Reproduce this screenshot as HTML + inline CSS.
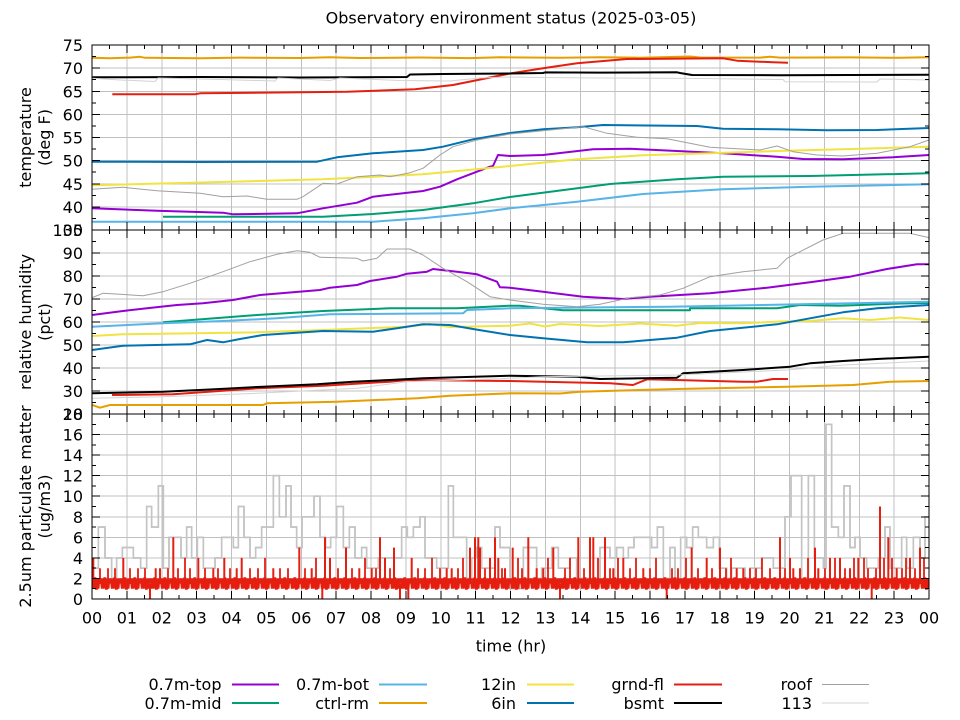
<!DOCTYPE html>
<html><head><meta charset="utf-8"><style>
html,body{margin:0;padding:0;background:#fff;}
svg{display:block;}
text{font-family:"DejaVu Sans","Liberation Sans",sans-serif;font-size:16px;fill:#000;}
</style></head><body>
<svg width="960" height="720" viewBox="0 0 960 720" xmlns="http://www.w3.org/2000/svg">
<defs>
<clipPath id="c1"><rect x="92" y="45" width="837" height="185"/></clipPath>
<clipPath id="c2"><rect x="92" y="230" width="837" height="184"/></clipPath>
<clipPath id="c3"><rect x="92" y="414" width="837" height="185"/></clipPath>
<pattern id="rz" patternUnits="userSpaceOnUse" x="92" y="570" width="10" height="30">
<polyline points="0,18.7 0.8,8.4 1.6,18.7 2.4,8.4 3.2,8.4 4,18.7 4.8,18.7 5.6,8.4 6.4,18.7 7.2,8.4 8,13.5 8.8,8.4 10,18.7" fill="none" stroke="#e51e10" stroke-width="2.2"/>
</pattern>
<g id="xt" stroke="#000" stroke-width="1">
<path d="M109.44,0v4M126.88,0v8M144.31,0v4M161.75,0v8M179.19,0v4M196.63,0v8M214.06,0v4M231.5,0v8M248.94,0v4M266.38,0v8M283.81,0v4M301.25,0v8M318.69,0v4M336.13,0v8M353.56,0v4M371,0v8M388.44,0v4M405.88,0v8M423.31,0v4M440.75,0v8M458.19,0v4M475.63,0v8M493.06,0v4M510.5,0v8M527.94,0v4M545.38,0v8M562.81,0v4M580.25,0v8M597.69,0v4M615.13,0v8M632.56,0v4M650,0v8M667.44,0v4M684.88,0v8M702.31,0v4M719.75,0v8M737.19,0v4M754.63,0v8M772.06,0v4M789.5,0v8M806.94,0v4M824.38,0v8M841.81,0v4M859.25,0v8M876.69,0v4M894.13,0v8M911.56,0v4"/>
</g>
</defs>
<rect width="960" height="720" fill="#fff"/>

<!-- grid -->
<g stroke="#c0c0c0" stroke-width="1" shape-rendering="crispEdges" fill="none">
<path d="M126.88,45V599M161.75,45V599M196.63,45V599M231.5,45V599M266.38,45V599M301.25,45V599M336.13,45V599M371,45V599M405.88,45V599M440.75,45V599M475.63,45V599M510.5,45V599M545.38,45V599M580.25,45V599M615.13,45V599M650,45V599M684.88,45V599M719.75,45V599M754.63,45V599M789.5,45V599M824.38,45V599M859.25,45V599M894.13,45V599"/>
<path d="M92,68.13H929M92,91.25H929M92,114.38H929M92,137.5H929M92,160.63H929M92,183.75H929M92,206.88H929"/>
<path d="M92,253H929M92,276H929M92,299H929M92,322H929M92,345H929M92,368H929M92,391H929"/>
<path d="M92,434.56H929M92,455.11H929M92,475.67H929M92,496.22H929M92,516.78H929M92,537.33H929M92,557.89H929M92,578.44H929"/>
</g>

<!-- temperature panel -->
<g clip-path="url(#c1)" fill="none" stroke-linejoin="round">
<polyline stroke="#9400d3" stroke-width="2" points="92,208.3 157,210.7 223,212.7 233,214.3 297,213.3 323,208.3 357,202.7 373,196.7 423,191 440,186.7 457,179.3 490,166.7 493,166 498,155 510,156 543,155 593,149.3 630,148.7 677,151 723,153.3 777,156.7 803,159 843,159.3 893,157.3 929,155"/>
<polyline stroke="#009e73" stroke-width="2" points="163,216.7 323,216.7 373,214 423,210 473,203.3 510,197 610,184 677,179.3 723,176.7 810,176 929,173.3"/>
<polyline stroke="#56b4e9" stroke-width="2" points="92,221.7 373,221.7 423,218.3 473,213.3 510,208.3 577,201.7 643,194 723,189.3 810,186.7 929,184.3"/>
<polyline stroke="#e69f00" stroke-width="2" points="92,57.8 110,58.3 130,57.6 140,56.8 145,57.8 200,58.2 240,57.6 300,58 330,57.3 360,58 420,57.5 470,58.1 500,57.3 560,57.8 600,57.2 640,57.7 690,56.5 700,57.5 760,57.6 770,56.8 780,57.6 850,57.4 900,57.8 929,57.3"/>
<polyline stroke="#f0e442" stroke-width="2" points="92,185.3 323,179.3 423,174.3 510,166 577,159.3 643,155.3 710,153.3 777,151 843,149.3 929,146.7"/>
<polyline stroke="#0072b2" stroke-width="2" points="92,161.7 200,162 317,161.7 337,157.3 373,153.3 423,150 443,146.7 473,139.3 510,133 543,129.3 577,127.3 603,125 697,126 723,128.7 777,129.3 827,130.3 877,130 929,128"/>
<polyline stroke="#e51e10" stroke-width="2" points="112.3,94.3 195,94.3 200,93.3 347,91.7 415,89.3 453,85 510,73.5 543,68.3 577,63.3 627,59 723,58.3 737,60.7 773,62.3 788,62.7"/>
<polyline stroke="#000" stroke-width="2" points="92,77.3 200,77 300,77.5 407,77 410,74.5 443,74 510,73.5 543,73 545,72.4 600,72.6 677,72.3 680,73 692,75 780,75.2 850,75 929,74.7"/>
<polyline stroke="#a0a0a0" stroke-width="1" points="92,189.3 123,187.3 157,190.7 200,193.3 223,196.7 247,196 267,199.3 297,199.3 303,196.7 323,183.3 337,184 357,176.7 380,175 390,176.7 410,172.7 423,168.3 440,155 453,146.7 477,140 510,134 583,126.7 607,133.3 637,137.3 667,138.7 710,147.3 760,150 777,146 793,151.7 817,155 843,156 877,153.3 910,146.7 929,140"/>
<polyline stroke="#d3d3d3" stroke-width="1" points="92,78.3 120,80 155,81.5 158,78 220,79.5 275,81 278,78 330,80.5 340,78 400,80.5 450,81 480,78 510,77 540,77.5 600,78 700,78.5 783,79.5 785,81.7 877,82 880,79 929,80"/>
</g>

<!-- humidity panel -->
<g clip-path="url(#c2)" fill="none" stroke-linejoin="round">
<polyline stroke="#9400d3" stroke-width="2" points="92,315 123,311 147,308.3 177,305 203,303.3 233,300 260,295 320,290 330,287.7 357,285 370,281 397,276.7 407,273.7 427,271.7 433,269 457,271.7 477,274.3 497,281.7 500,287.3 510,287.7 543,291.7 583,296.7 623,299 650,296.7 710,293.3 767,287.7 810,282.3 850,276.7 887,269 917,264.3 929,264.3"/>
<polyline stroke="#009e73" stroke-width="2" points="163,322.3 257,315 323,311 390,308.3 457,308.3 510,305.7 520,305.7 563,310.3 690,310.3 690,308.3 777,308.3 800,305 840,305.7 900,303.5 929,303"/>
<polyline stroke="#56b4e9" stroke-width="2" points="92,326.7 163,323.3 223,321 277,318.3 330,314.3 463,313.3 467,310 510,308.3 670,306.7 800,304.3 929,301.7"/>
<polyline stroke="#e69f00" stroke-width="2" points="92,405 100,407.7 110,405 263,405 267,403.3 337,401.7 417,398.3 450,395.7 510,393.3 560,393.5 580,391.7 677,389 787,386.7 853,385 890,381.7 929,381"/>
<polyline stroke="#f0e442" stroke-width="2" points="92,336 123,334.3 257,332.3 323,330 407,326.7 430,324 450,327 510,325.7 530,323.5 545,326.5 560,324 600,326 640,323.5 677,325.7 700,323 743,323.3 780,321.5 810,321 843,318.3 870,320 900,317.5 929,320"/>
<polyline stroke="#0072b2" stroke-width="2" points="92,350 123,345.7 190,344.3 207,340 223,342.3 240,339 263,335 323,331 373,331.7 397,328.3 423,324.3 450,325 473,329 510,335 543,338.3 587,342.3 623,342.3 677,337.7 710,331 777,324.3 810,318.3 843,312.3 877,308.3 929,305"/>
<polyline stroke="#e51e10" stroke-width="2" points="112,395 173,394.3 257,388.3 323,385.7 390,381.7 407,380 510,381 610,383.3 633,385 647,379.3 743,381.7 757,381.7 773,379 788,379"/>
<polyline stroke="#000" stroke-width="2" points="92,393.3 163,391.7 220,389 263,386.7 317,384.3 353,381.7 390,380 423,378.3 510,375.7 577,376.7 600,379 677,377.7 683,373.3 743,370 790,366.7 810,363.3 843,361 877,359 929,356.7"/>
<polyline stroke="#a0a0a0" stroke-width="1" points="92,297.7 103,293.3 143,295.7 163,291.7 190,283.3 223,271.7 250,261.7 277,254.3 297,250.7 310,252.3 320,257.3 357,258.3 363,261 377,258.3 387,249 410,249 423,255 443,268.3 467,281.7 490,296.7 510,300 543,304.3 577,306.7 600,304.3 630,297.7 660,295 683,288.3 710,276.7 743,271.7 777,268.3 787,258.3 800,251.7 823,240 843,233.3 910,233.3 929,237.7"/>
<polyline stroke="#d3d3d3" stroke-width="1" points="92,398.3 163,396.7 257,393.3 357,388.3 407,381.7 510,378.3 543,376.7 677,375 787,370 843,365 929,361"/>
</g>

<!-- particulate panel -->
<g clip-path="url(#c3)" fill="none">
<path id="roofpm" stroke="#c4c4c4" stroke-width="1.6" d="M92,568.2 H98.3 V527.1 H105 V557.9 H111.7 V578.4 H116.7 V557.9 H122.3 V547.6 H133.3 V557.9 H140.7 V568.2 H146.7 V506.5 H151.7 V527.1 H158.3 V485.9 H163.3 V568.2 H169 V537.3 H181 V557.9 H186.7 V527.1 H191.7 V557.9 H197.3 V537.3 H203.3 V568.2 H215 V557.9 H221.7 V537.3 H233.3 V547.6 H238.3 V506.5 H244 V537.3 H250 V557.9 H255.7 V547.6 H261.7 V527.1 H273.3 V475.7 H279.3 V516.8 H286 V485.9 H291 V527.1 H296.7 V547.6 H302 V516.8 H314 V496.2 H320 V537.3 H325.7 V547.6 H330.7 V537.3 H336.7 V506.5 H343.3 V547.6 H349.3 V527.1 H355 V557.9 H361.7 V547.6 H366.7 V568.2 H378.3 V557.9 H401.7 V527.1 H407.3 V537.3 H413.3 V527.1 H420 V516.8 H425 V557.9 H436.7 V568.2 H448.3 V485.9 H453.3 V537.3 H466.7 V578.4 H471.7 V557.9 H476.7 V547.6 H481.7 V568.2 H495 V527.1 H500 V547.6 H510 V588.7 H523.3 V547.6 H536.7 V578.4 H541.7 V568.2 H551.7 V547.6 H558.3 V568.2 H570 V557.9 H576.7 V578.4 H600 V547.6 H610 V557.9 H616.7 V547.6 H623.3 V557.9 H628.3 V547.6 H634 V537.3 H651.7 V547.6 H657.3 V527.1 H663.3 V578.4 H670 V547.6 H675 V578.4 H680.7 V537.3 H686.7 V547.6 H692.7 V527.1 H698.3 V537.3 H706.7 V547.6 H713.3 V537.3 H719.3 V568.2 H726.7 V578.4 H731.7 V568.2 H745 V578.4 H750 V568.2 H761.7 V557.9 H773.3 V568.2 H785 V516.8 H791 V475.7 H801.7 V578.4 H808.3 V475.7 H814.3 V557.9 H823.3 V568.2 H826 V424.3 H831.7 V527.1 H838.3 V537.3 H844 V485.9 H850 V547.6 H855 V537.3 H860 V557.9 H866.7 V568.2 H878.3 V557.9 H885 V527.1 H890 V568.2 H901.7 V537.3 H906.7 V568.2 H913.3 V537.3 H920 V557.9 H925 V516.8 H929"/>
<use href="#roofpm" stroke="#a4a4a4" stroke-width="0.8"/>
<rect x="92" y="570" width="837" height="30" fill="url(#rz)" stroke="none"/>
<path stroke="#e51e10" stroke-width="2" d="M93.3,584V557.9M123.3,584V557.9M150,584V599M155.7,584V568.2M160,584V568.2M173.3,584V537.3M198.3,584V557.9M213.3,584V568.2M224.3,584V557.9M236.7,584V568.2M241.7,584V557.9M273.3,584V568.2M299.3,584V547.6M311.7,584V568.2M322.3,584V599M325,584V537.3M330,584V557.9M346,584V547.6M359.3,584V568.2M371.7,584V568.2M380,584V537.3M385,584V557.9M394,584V547.6M400,584V599M408.3,584V599M411.7,584V557.9M446.7,584V568.2M451.7,584V568.2M470,584V547.6M475,584V537.3M478.3,584V537.3M480,584V547.6M490,584V557.9M495,584V537.3M498.3,584V557.9M505,584V568.2M512.7,584V547.6M528.3,584V537.3M536.7,584V568.2M543.3,584V568.2M553.3,584V547.6M560,584V599M578.3,584V537.3M590,584V537.3M593.3,584V537.3M605,584V537.3M613.3,584V568.2M623.3,584V557.9M643.3,584V568.2M666.7,584V599M691.7,584V547.6M706.7,584V557.9M720,584V547.6M736.7,584V568.2M743.3,584V568.2M780,584V537.3M790,584V557.9M793.3,584V568.2M800,584V568.2M815,584V547.6M818.3,584V568.2M830,584V557.9M840,584V557.9M850,584V568.2M858.3,584V557.9M871.7,584V599M880,584V506.5M888.3,584V537.3M896.7,584V568.2M910,584V557.9M920,584V547.6M926.7,584V578.4"/>
<path stroke="#e51e10" stroke-width="1.8" d="M100,584V568.2M108,584V568.2M115,584V568.2M130,584V568.2M138,584V568.2M145,584V568.2M168,584V568.2M178,584V568.2M185,584V557.9M190,584V568.2M205,584V568.2M218,584V568.2M230,584V568.2M250,584V568.2M258,584V568.2M265,584V557.9M280,584V568.2M288,584V568.2M305,584V568.2M316,584V557.9M338,584V568.2M352,584V568.2M365,584V557.9M376,584V568.2M390,584V568.2M418,584V568.2M425,584V568.2M432,584V557.9M440,584V568.2M458,584V568.2M463,584V557.9M485,584V568.2M502,584V568.2M518,584V557.9M522,584V568.2M548,584V557.9M565,584V568.2M570,584V557.9M584,584V568.2M598,584V557.9M610,584V568.2M618,584V557.9M630,584V568.2M636,584V557.9M650,584V568.2M656,584V557.9M672,584V568.2M678,584V568.2M686,584V557.9M698,584V568.2M712,584V568.2M726,584V568.2M731,584V557.9M750,584V568.2M756,584V568.2M762,584V557.9M770,584V568.2M785,584V568.2M808,584V557.9M825,584V568.2M835,584V557.9M845,584V568.2M854,584V557.9M864,584V557.9M868,584V568.2M876,584V568.2M884,584V557.9M892,584V557.9M902,584V568.2M906,584V557.9M915,584V568.2M924,584V557.9"/>
</g>

<!-- ticks -->
<g shape-rendering="crispEdges">
<use href="#xt" transform="translate(0,45)"/>
<use href="#xt" transform="translate(0,230) scale(1,-1)"/>
<use href="#xt" transform="translate(0,230)"/>
<use href="#xt" transform="translate(0,414) scale(1,-1)"/>
<use href="#xt" transform="translate(0,414)"/>
<use href="#xt" transform="translate(0,599) scale(1,-1)"/>
<path stroke="#000" stroke-width="1" fill="none" d="M92,68.13h8M92,91.25h8M92,114.38h8M92,137.5h8M92,160.63h8M92,183.75h8M92,206.88h8M92,56.56h4M92,79.69h4M92,102.81h4M92,125.94h4M92,149.06h4M92,172.19h4M92,195.31h4M92,218.44h4
M929,68.13h-8M929,91.25h-8M929,114.38h-8M929,137.5h-8M929,160.63h-8M929,183.75h-8M929,206.88h-8M929,56.56h-4M929,79.69h-4M929,102.81h-4M929,125.94h-4M929,149.06h-4M929,172.19h-4M929,195.31h-4M929,218.44h-4
M92,253h8M92,276h8M92,299h8M92,322h8M92,345h8M92,368h8M92,391h8M92,241.5h4M92,264.5h4M92,287.5h4M92,310.5h4M92,333.5h4M92,356.5h4M92,379.5h4M92,402.5h4
M929,253h-8M929,276h-8M929,299h-8M929,322h-8M929,345h-8M929,368h-8M929,391h-8M929,241.5h-4M929,264.5h-4M929,287.5h-4M929,310.5h-4M929,333.5h-4M929,356.5h-4M929,379.5h-4M929,402.5h-4
M92,434.56h8M92,455.11h8M92,475.67h8M92,496.22h8M92,516.78h8M92,537.33h8M92,557.89h8M92,578.44h8M92,424.28h4M92,444.83h4M92,465.39h4M92,485.94h4M92,506.5h4M92,527.06h4M92,547.61h4M92,568.17h4M92,588.72h4
M929,434.56h-8M929,455.11h-8M929,475.67h-8M929,496.22h-8M929,516.78h-8M929,537.33h-8M929,557.89h-8M929,578.44h-8M929,424.28h-4M929,444.83h-4M929,465.39h-4M929,485.94h-4M929,506.5h-4M929,527.06h-4M929,547.61h-4M929,568.17h-4M929,588.72h-4"/>
<rect x="92" y="45" width="837" height="554" fill="none" stroke="#000" stroke-width="1"/>
<path d="M92,230H929M92,414H929" stroke="#000" stroke-width="1"/>
</g>

<!-- title -->
<text x="511" y="23.5" text-anchor="middle">Observatory environment status (2025-03-05)</text>

<!-- y tick labels -->
<g text-anchor="end">
<text x="83" y="51">75</text><text x="83" y="74.1">70</text><text x="83" y="97.3">65</text><text x="83" y="120.4">60</text><text x="83" y="143.5">55</text><text x="83" y="166.6">50</text><text x="83" y="189.8">45</text><text x="83" y="212.9">40</text><text x="83" y="236">35</text>
<text x="83" y="236">100</text><text x="83" y="259">90</text><text x="83" y="282">80</text><text x="83" y="305">70</text><text x="83" y="328">60</text><text x="83" y="351">50</text><text x="83" y="374">40</text><text x="83" y="397">30</text><text x="83" y="420">20</text>
<text x="83" y="420">18</text><text x="83" y="440.6">16</text><text x="83" y="461.1">14</text><text x="83" y="481.7">12</text><text x="83" y="502.2">10</text><text x="83" y="522.8">8</text><text x="83" y="543.3">6</text><text x="83" y="563.9">4</text><text x="83" y="584.4">2</text><text x="83" y="605">0</text>
</g>

<!-- x tick labels -->
<g text-anchor="middle">
<text x="92" y="623.5">00</text><text x="126.9" y="623.5">01</text><text x="161.8" y="623.5">02</text><text x="196.6" y="623.5">03</text><text x="231.5" y="623.5">04</text><text x="266.4" y="623.5">05</text><text x="301.3" y="623.5">06</text><text x="336.1" y="623.5">07</text><text x="371" y="623.5">08</text><text x="405.9" y="623.5">09</text><text x="440.8" y="623.5">10</text><text x="475.6" y="623.5">11</text><text x="510.5" y="623.5">12</text><text x="545.4" y="623.5">13</text><text x="580.3" y="623.5">14</text><text x="615.1" y="623.5">15</text><text x="650" y="623.5">16</text><text x="684.9" y="623.5">17</text><text x="719.8" y="623.5">18</text><text x="754.6" y="623.5">19</text><text x="789.5" y="623.5">20</text><text x="824.4" y="623.5">21</text><text x="859.3" y="623.5">22</text><text x="894.1" y="623.5">23</text><text x="929" y="623.5">00</text>
<text x="511" y="651.5">time (hr)</text>
</g>

<!-- y axis labels -->
<g text-anchor="middle">
<text transform="translate(31,137.5) rotate(-90)">temperature</text>
<text transform="translate(50,137.5) rotate(-90)">(deg F)</text>
<text transform="translate(31,322) rotate(-90)">relative humidity</text>
<text transform="translate(50,322) rotate(-90)">(pct)</text>
<text transform="translate(31,506.5) rotate(-90)">2.5um particulate matter</text>
<text transform="translate(50,506.5) rotate(-90)">(ug/m3)</text>
</g>

<!-- legend -->
<g text-anchor="end">
<text x="221.5" y="690">0.7m-top</text><text x="221.5" y="709">0.7m-mid</text>
<text x="369" y="690">0.7m-bot</text><text x="369" y="709">ctrl-rm</text>
<text x="516" y="690">12in</text><text x="516" y="709">6in</text>
<text x="664" y="690">grnd-fl</text><text x="664" y="709">bsmt</text>
<text x="812" y="690">roof</text><text x="812" y="709">113</text>
</g>
<g fill="none">
<path d="M232,684.5H279" stroke="#9400d3" stroke-width="2"/>
<path d="M232,703H279" stroke="#009e73" stroke-width="2"/>
<path d="M379,684.5H427" stroke="#56b4e9" stroke-width="2"/>
<path d="M379,703H427" stroke="#e69f00" stroke-width="2"/>
<path d="M527,684.5H574" stroke="#f0e442" stroke-width="2"/>
<path d="M527,703H574" stroke="#0072b2" stroke-width="2"/>
<path d="M674,684.5H722" stroke="#e51e10" stroke-width="2"/>
<path d="M674,703H722" stroke="#000" stroke-width="2"/>
<path d="M822,684.5H869" stroke="#a0a0a0" stroke-width="1"/>
<path d="M822,703H869" stroke="#d3d3d3" stroke-width="1"/>
</g>
</svg>
</body></html>
